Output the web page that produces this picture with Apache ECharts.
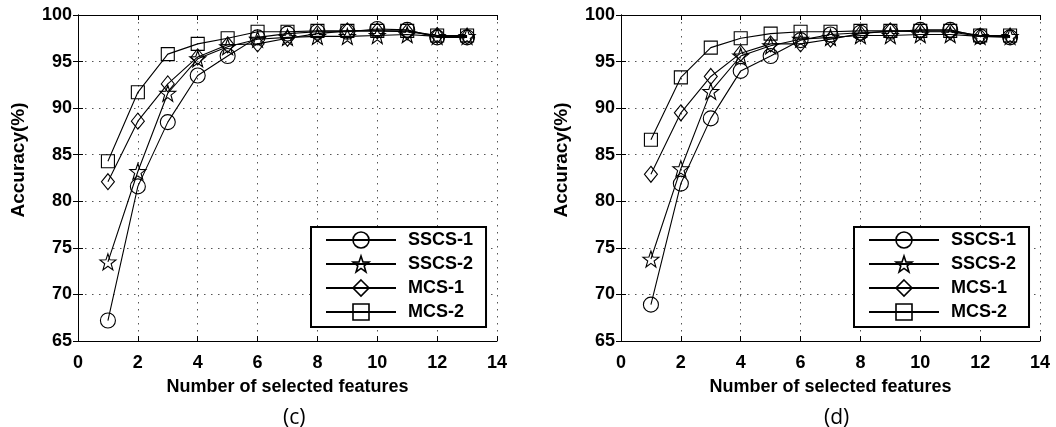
<!DOCTYPE html>
<html lang="en">
<head>
    <meta charset="UTF-8">
    <title>Accuracy vs selected features</title>
    <script src="https://cdn.jsdelivr.net/npm/echarts@6/dist/echarts.min.js"></script>
    <style>
        html, body { margin: 0; padding: 0; background: #fff; }
        #main { width: 1056px; height: 427px; }
    </style>
</head>
<body>
    <div id="main"></div>
    <script>
        // x 轴：所选特征数
        var features = [1, 2, 3, 4, 5, 6, 7, 8, 9, 10, 11, 12, 13];
        var seriesNames = ['SSCS-1', 'SSCS-2', 'MCS-1', 'MCS-2'];
        var xTicks = [0, 14, 2];     // min, max, interval
        var yTicks = [65, 100, 5];

        // (c)
        var c_sscs1 = [67.2, 81.6, 88.5, 93.5, 95.6, 97.6, 98.0, 98.2, 98.2, 98.5, 98.4, 97.6, 97.6];
        var c_sscs2 = [73.5, 83.2, 91.6, 95.3, 96.6, 97.4, 97.6, 97.7, 97.7, 97.8, 97.9, 97.7, 97.7];
        var c_mcs1  = [82.1, 88.6, 92.6, 95.5, 96.8, 96.9, 97.5, 98.0, 98.3, 98.3, 98.2, 97.8, 97.7];
        var c_mcs2  = [84.3, 91.7, 95.8, 96.9, 97.5, 98.2, 98.2, 98.3, 98.3, 98.3, 98.3, 97.8, 97.8];

        // (d)
        var d_sscs1 = [68.9, 81.9, 88.9, 94.0, 95.6, 97.3, 97.9, 98.1, 98.2, 98.4, 98.4, 97.7, 97.6];
        var d_sscs2 = [73.8, 83.5, 91.8, 95.6, 96.7, 97.4, 97.6, 97.8, 97.8, 97.9, 97.9, 97.7, 97.7];
        var d_mcs1  = [82.9, 89.5, 93.4, 95.9, 96.9, 96.9, 97.4, 98.0, 98.3, 98.2, 98.2, 97.7, 97.7];
        var d_mcs2  = [86.6, 93.3, 96.5, 97.5, 98.0, 98.2, 98.2, 98.3, 98.3, 98.3, 98.3, 97.8, 97.8];

        var starPath = 'path://M0,-10L2.35,-3.24L9.51,-3.09L3.8,1.24L5.88,8.09L0,4L-5.88,8.09L-3.8,1.24L-9.51,-3.09L-2.35,-3.24Z';
        var symbols = ['circle', starPath, 'diamond', 'rect'];
        var sizes = [15, 16, [13, 16], 13];

        var font = '"Liberation Sans", Arial, sans-serif';

        function pair(arr) {
            return features.map(function (f, i) { return [f, arr[i]]; });
        }

        function makeSeries(data, idx) {
            return data.map(function (arr, k) {
                return {
                    name: seriesNames[k],
                    type: 'line',
                    xAxisIndex: idx * 2,
                    yAxisIndex: idx * 2,
                    data: pair(arr),
                    symbol: symbols[k],
                    symbolSize: sizes[k],
                    showAllSymbol: true,
                    lineStyle: { color: '#000', width: 1.1 },
                    itemStyle: { color: 'rgba(255,255,255,0)', borderColor: '#000', borderWidth: 1.1 },
                    emphasis: { disabled: true },
                    animation: false
                };
            });
        }

        // 主坐标轴（带标签）
        function xMain(g) {
            return {
                gridIndex: g, type: 'value', min: xTicks[0], max: xTicks[1], interval: xTicks[2],
                name: 'Number of selected features', nameLocation: 'middle', nameGap: 37,
                nameTextStyle: { fontFamily: font, fontWeight: 'bold', fontSize: 18, color: '#000' },
                axisLine: { show: true, lineStyle: { color: '#000', width: 1 } },
                axisTick: { show: true, inside: true, length: 5, lineStyle: { color: '#000' } },
                axisLabel: { margin: 13, fontFamily: font, fontWeight: 'bold', fontSize: 18, color: '#000' },
                splitLine: { show: true, lineStyle: { color: '#555', type: [1.5, 5.5], width: 1 } }
            };
        }
        function yMain(g) {
            return {
                gridIndex: g, type: 'value', min: yTicks[0], max: yTicks[1], interval: yTicks[2],
                name: 'Accuracy(%)', nameLocation: 'middle', nameGap: 50,
                nameTextStyle: { fontFamily: font, fontWeight: 'bold', fontSize: 19, color: '#000', padding: [0, 0, 0, 36] },
                axisLine: { show: true, lineStyle: { color: '#000', width: 1 } },
                axisTick: { show: true, inside: true, length: 5, lineStyle: { color: '#000' } },
                axisLabel: { margin: 6, fontFamily: font, fontWeight: 'bold', fontSize: 18, color: '#000' },
                splitLine: { show: true, lineStyle: { color: '#555', type: [1.5, 5.5], width: 1 } }
            };
        }
        // 镜像坐标轴（上、右两侧的刻度）
        function xMirror(g) {
            return {
                gridIndex: g, type: 'value', position: 'top', min: xTicks[0], max: xTicks[1], interval: xTicks[2],
                axisLine: { show: true, lineStyle: { color: '#000' } },
                axisTick: { show: true, inside: true, length: 5, lineStyle: { color: '#000' } },
                axisLabel: { show: false }, splitLine: { show: false }
            };
        }
        function yMirror(g) {
            return {
                gridIndex: g, type: 'value', position: 'right', min: yTicks[0], max: yTicks[1], interval: yTicks[2],
                axisLine: { show: true, lineStyle: { color: '#000' } },
                axisTick: { show: true, inside: true, length: 5, lineStyle: { color: '#000' } },
                axisLabel: { show: false }, splitLine: { show: false }
            };
        }

        function makeLegend(left) {
            return {
                left: left, top: 227, orient: 'vertical',
                data: seriesNames,
                itemWidth: 70, itemHeight: 20, itemGap: 6,
                padding: [4, 13, 6, 14],
                backgroundColor: '#fff',
                borderColor: '#000', borderWidth: 2,
                lineStyle: { width: 2 },
                itemStyle: { borderWidth: 1.6 },
                textStyle: { fontFamily: font, fontWeight: 'bold', fontSize: 18, color: '#000', padding: [0, 0, 0, 7] },
                selectedMode: false
            };
        }

        var myChart = echarts.init(document.getElementById('main'));

        var option = {
            backgroundColor: '#fff',
            animation: false,
            title: [
                { text: '(c)', left: 278, top: 403, textStyle: { fontFamily: '"Open Sans", sans-serif', fontWeight: 'normal', fontSize: 21, color: '#000' } },
                { text: '(d)', left: 819, top: 403, textStyle: { fontFamily: '"Open Sans", sans-serif', fontWeight: 'normal', fontSize: 21, color: '#000' } }
            ],
            grid: [
                { left: 78, right: 559, top: 15, bottom: 86 },
                { left: 621, right: 16, top: 15, bottom: 86 }
            ],
            xAxis: [xMain(0), xMirror(0), xMain(1), xMirror(1)],
            yAxis: [yMain(0), yMirror(0), yMain(1), yMirror(1)],
            legend: [makeLegend(311), makeLegend(854)],
            series: makeSeries([c_sscs1, c_sscs2, c_mcs1, c_mcs2], 0)
                .concat(makeSeries([d_sscs1, d_sscs2, d_mcs1, d_mcs2], 1))
        };

        myChart.setOption(option);
    </script>
</body>
</html>
